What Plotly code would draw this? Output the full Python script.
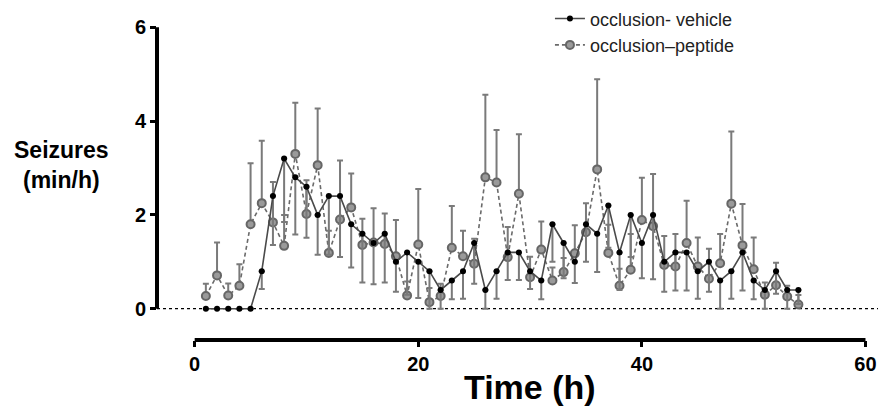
import plotly.graph_objects as go

# ---------------- data ----------------
hours = list(range(1, 55))

vehicle = [0, 0, 0, 0, 0, 0.8, 2.4, 3.2, 2.8, 2.6,
           2.0, 2.4, 2.4, 1.8, 1.6, 1.4, 1.6, 1.0, 1.2, 1.0,
           0.8, 0.4, 0.6, 0.8, 1.4, 0.4, 0.8, 1.2, 1.2, 0.8,
           0.6, 1.8, 1.4, 1.0, 1.8, 1.6, 2.2, 1.2, 2.0, 1.4,
           2.0, 1.0, 1.2, 1.2, 0.8, 1.0, 0.6, 0.8, 1.2, 0.6,
           0.4, 0.8, 0.4, 0.4]
vehicle_err = [0, 0, 0, 0, 0, 0.38, 1.04, 1.35, 1.22, 1.09,
               0.85, 1.25, 1.30, 0.92, 1.04, 0.88, 1.04, 0.64, 0.90, 0.77,
               0.80, 0.40, 0.40, 0.59, 0.87, 0.40, 0.59, 0.59, 0.59, 0.38,
               0.40, 0.80, 0.75, 0.45, 0.80, 0.82, 0.90, 0.80, 0.90, 0.75,
               1.37, 0.64, 0.81, 0.81, 0.59, 0.64, 0.60, 0.59, 0.81, 0.40,
               0.40, 0.48, 0.40, 0.30]

peptide = [0.27, 0.71, 0.28, 0.49, 1.80, 2.25, 1.84, 1.34, 3.30, 2.02,
           3.06, 1.19, 1.90, 2.16, 1.36, 1.41, 1.38, 1.12, 0.28, 1.37,
           0.14, 0.27, 1.30, 1.12, 0.96, 2.80, 2.69, 1.10, 2.45, 0.67,
           1.26, 0.60, 0.78, 1.18, 1.63, 2.97, 1.19, 0.49, 0.83, 1.89,
           1.76, 0.93, 0.90, 1.40, 0.90, 0.64, 0.97, 2.24, 1.35, 0.84,
           0.30, 0.50, 0.26, 0.09]
peptide_err = [0.26, 0.70, 0.26, 0.46, 1.30, 1.33, 0.86, 0.66, 1.09, 0.72,
               1.21, 0.47, 1.26, 0.72, 0.56, 0.73, 0.65, 0.77, 0.30, 1.18,
               0.30, 0.26, 0.89, 0.54, 0.53, 1.76, 1.12, 0.64, 1.27, 0.44,
               0.60, 0.28, 0.30, 0.60, 0.62, 1.92, 0.60, 0.36, 0.76, 0.90,
               1.11, 0.62, 0.69, 0.90, 0.62, 0.64, 0.62, 1.54, 0.88, 0.68,
               0.26, 0.48, 0.23, 0.20]

x_ticks = [0, 20, 40, 60]
y_ticks = [0, 2, 4, 6]
names = ["occlusion- vehicle", "occlusion\u2013peptide"]
x_title = "Time (h)"
y_title = "Seizures<br>(min/h)"

FONT = "Liberation Sans, Arial, sans-serif"

fig = go.Figure()

# peptide (dashed grey, error bars upward)
fig.add_trace(go.Scatter(
    x=hours, y=peptide, name=names[1], mode="lines+markers",
    line=dict(color="#6a6a6a", width=1.6, dash="4px,3px"),
    marker=dict(symbol="circle", size=8, color="#9a9a9a",
                line=dict(color="#666666", width=2)),
    error_y=dict(type="data", symmetric=False, array=peptide_err,
                 arrayminus=[0] * len(peptide_err),
                 color="#7a7a7a", thickness=2, width=3),
    cliponaxis=False,
))

# vehicle (solid, black markers, error bars downward)
fig.add_trace(go.Scatter(
    x=hours, y=vehicle, name=names[0], mode="lines+markers",
    line=dict(color="#4a4a4a", width=1.6),
    marker=dict(symbol="circle", size=6, color="black"),
    error_y=dict(type="data", symmetric=False, array=[0] * len(vehicle_err),
                 arrayminus=vehicle_err,
                 color="#7a7a7a", thickness=2, width=3),
    cliponaxis=False,
))

# axis lines and zero reference
shapes = [
    dict(type="line", xref="paper", yref="y", x0=0, x1=1, y0=0, y1=0,
         line=dict(color="black", width=1.3, dash="dot"), layer="below"),
    dict(type="line", xref="paper", yref="y", x0=0, x1=0, y0=0, y1=6,
         line=dict(color="black", width=4)),
    dict(type="line", xref="x", yref="paper", x0=0, x1=60, y0=0, y1=0,
         line=dict(color="black", width=4)),
]

fig.update_layout(
    width=878, height=415,
    margin=dict(l=157, r=0, t=20, b=75),
    paper_bgcolor="white", plot_bgcolor="white",
    showlegend=True,
    legend=dict(x=0.545, y=1.075, xanchor="left", yanchor="top",
                font=dict(family=FONT, size=18, color="#222"),
                itemwidth=30, bgcolor="rgba(0,0,0,0)", tracegroupgap=0,
                traceorder="reversed"),
    shapes=shapes,
    annotations=[
        dict(text="<b>" + y_title + "</b>", xref="paper", yref="paper",
             x=-0.133, y=0.555, xanchor="center", yanchor="middle",
             showarrow=False, align="center",
             font=dict(family=FONT, size=23, color="black")),
        dict(text="<b>" + x_title + "</b>", xref="x", yref="paper",
             x=30, y=-0.15, xanchor="center", yanchor="middle",
             showarrow=False,
             font=dict(family=FONT, size=34, color="black")),
    ],
)

fig.update_xaxes(
    range=[-3.37, 61.12], showgrid=False, zeroline=False, showline=False,
    tickvals=x_ticks, ticks="outside", ticklen=6, tickwidth=3, tickcolor="black",
    ticklabeloverflow="allow",
    tickfont=dict(family=FONT, size=20, color="black", weight="bold"),
)
fig.update_yaxes(
    range=[-0.667, 6.069], showgrid=False, zeroline=False, showline=False,
    tickvals=y_ticks, ticks="outside", ticklen=6, tickwidth=3, tickcolor="black",
    tickfont=dict(family=FONT, size=20, color="black", weight="bold"),
)

fig.write_html("out.html")
